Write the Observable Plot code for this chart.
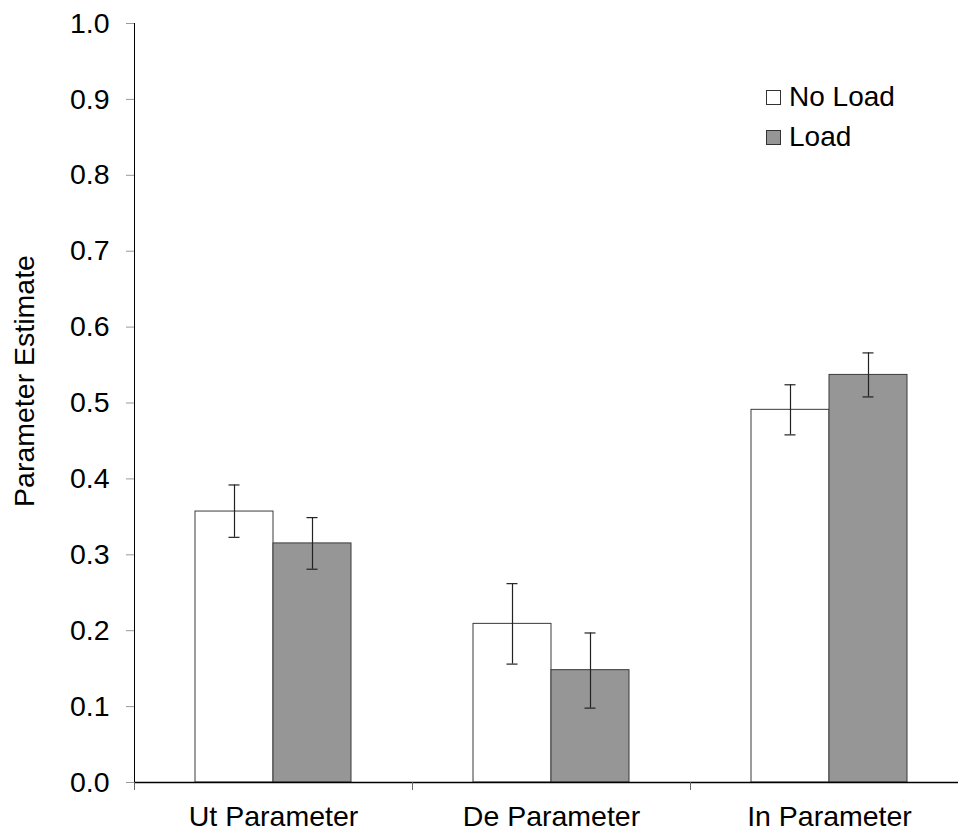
<!DOCTYPE html>
<html>
<head>
<meta charset="utf-8">
<script src="https://cdn.jsdelivr.net/npm/d3@7"></script>
<script src="https://cdn.jsdelivr.net/npm/@observablehq/plot@0.6"></script>
<style>
  html, body { margin: 0; padding: 0; background: white; overflow: hidden; }
  #wrap { position: relative; width: 958px; height: 831px; font-family: "Liberation Sans", Arial, sans-serif; }
  #legend { position: absolute; left: 766px; top: 77px; font-size: 28px; color: #000; }
  #legend .row { display: flex; align-items: center; height: 40px; }
  #legend .sw { width: 13px; height: 13px; border: 1px solid #333; margin-right: 8px; }
  g[aria-label="y-axis tick"], g[aria-label="y-axis tick"] path { stroke: #999; }
  g[aria-label="fx-axis tick"], g[aria-label="fx-axis tick"] path { stroke: #666; }
</style>
</head>
<body>
<div id="wrap"><div id="legend"></div></div>
<script>
const categories = ["Ut Parameter", "De Parameter", "In Parameter"];
const series = ["No Load", "Load"];
const noLoadValues = [0.357, 0.209, 0.491];
const loadValues = [0.315, 0.148, 0.537];
const noLoadLow = [0.323, 0.156, 0.458];
const noLoadHigh = [0.392, 0.262, 0.524];
const loadLow = [0.281, 0.098, 0.508];
const loadHigh = [0.349, 0.197, 0.566];
const yTicks = [0, 0.1, 0.2, 0.3, 0.4, 0.5, 0.6, 0.7, 0.8, 0.9, 1.0];
const fills = {"No Load": "#ffffff", "Load": "#969696"};

const data = [];
categories.forEach((c, i) => {
  data.push({cat: c, series: "No Load", value: noLoadValues[i], lo: noLoadLow[i], hi: noLoadHigh[i]});
  data.push({cat: c, series: "Load", value: loadValues[i], lo: loadLow[i], hi: loadHigh[i]});
});

const W = 958, H = 831, ML = 134, MR = -10, MT = 23, MB = 49;
const fxStep = (W - MR - ML) / categories.length;
const FS = 28.5;

const chart = Plot.plot({
  width: W, height: H,
  marginLeft: ML, marginRight: MR, marginTop: MT, marginBottom: MB,
  style: {fontFamily: "Liberation Sans, Arial, sans-serif", fontSize: FS + "px", color: "#000", background: "white", overflow: "visible"},
  fx: {domain: categories, paddingInner: 0, paddingOuter: 0, axis: null, label: null},
  x: {domain: series, paddingInner: 0, paddingOuter: 0.76, axis: null, label: null},
  y: {domain: [0, 1], axis: "left", ticks: yTicks, tickFormat: d3.format(".1f"), tickSize: 8, tickPadding: 17, line: true, label: null},
  marks: [
    Plot.barY(data, {fx: "cat", x: "series", y: "value", fill: d => fills[d.series], stroke: "#3a3a3a", strokeWidth: 1}),
    Plot.ruleX(data, {fx: "cat", x: "series", y1: "lo", y2: "hi", stroke: "#222", strokeWidth: 1.2}),
    Plot.tickY(data, {fx: "cat", x: "series", y: "lo", insetLeft: 33.5, insetRight: 33.5, stroke: "#222", strokeWidth: 1.2}),
    Plot.tickY(data, {fx: "cat", x: "series", y: "hi", insetLeft: 33.5, insetRight: 33.5, stroke: "#222", strokeWidth: 1.2}),
    Plot.ruleY([0], {stroke: "#000", strokeWidth: 1.5}),
    Plot.axisFx({anchor: "bottom", tickSize: 0, tickPadding: 23, label: null, fontSize: FS}),
    Plot.axisFx({anchor: "bottom", tickSize: 8, tickFormat: () => "", label: null, dx: -fxStep / 2})
  ]
});

const wrap = document.getElementById("wrap");
wrap.insertBefore(chart, wrap.firstChild);

// y-axis title
const svg = d3.select(chart);
svg.append("text")
  .attr("transform", `translate(34, 381) rotate(-90)`)
  .attr("text-anchor", "middle")
  .attr("font-size", FS)
  .attr("fill", "#000")
  .text("Parameter Estimate");

const legend = document.getElementById("legend");
series.forEach(s => {
  const row = document.createElement("div");
  row.className = "row";
  const sw = document.createElement("div");
  sw.className = "sw";
  sw.style.background = fills[s];
  const t = document.createElement("span");
  t.textContent = s;
  row.appendChild(sw);
  row.appendChild(t);
  legend.appendChild(row);
});
</script>
</body>
</html>
